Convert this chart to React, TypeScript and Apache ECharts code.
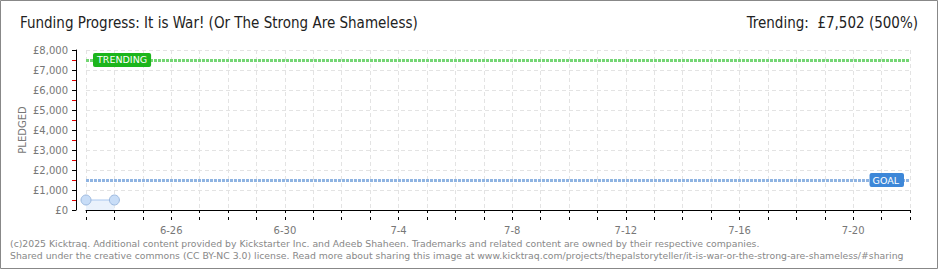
import React, { useEffect, useRef } from "react";
import * as echarts from "echarts";

const dates = [
  "6-23", "6-24", "6-25", "6-26", "6-27", "6-28", "6-29", "6-30",
  "7-1", "7-2", "7-3", "7-4", "7-5", "7-6", "7-7", "7-8",
  "7-9", "7-10", "7-11", "7-12", "7-13", "7-14", "7-15", "7-16",
  "7-17", "7-18", "7-19", "7-20", "7-21", "7-22",
];
const pledged = [500, 500];
const trendingValue = 7502;
const goalValue = 1500;
const titleText = "Funding Progress: It is War! (Or The Strong Are Shameless)";
const trendingText = "Trending:  £7,502 (500%)";
const footer1 =
  "(c)2025 Kicktraq. Additional content provided by Kickstarter Inc. and Adeeb Shaheen. Trademarks and related content are owned by their respective companies.";
const footer2 =
  "Shared under the creative commons (CC BY-NC 3.0) license. Read more about sharing this image at www.kicktraq.com/projects/thepalstoryteller/it-is-war-or-the-strong-are-shameless/#sharing";

export default function App() {
  const ref = useRef<HTMLDivElement>(null);
  useEffect(() => {
    if (!ref.current) return;
    const chart = echarts.init(ref.current, null, { renderer: "svg" });
    const gridDash = { color: "#e3e3e3", type: [4, 3] as any, width: 1 };
    chart.setOption({
      animation: false,
      backgroundColor: "#ffffff",
      grid: { left: 86, right: 30, top: 50, bottom: 60, containLabel: false },
      title: [
        {
          text: titleText,
          left: 20,
          top: 15,
          padding: 0,
          textStyle: { fontFamily: "DejaVu Sans Condensed", fontSize: 15, fontWeight: "normal", color: "#222" },
        },
        {
          text: trendingText,
          right: 22,
          top: 15,
          padding: 0,
          textStyle: { fontFamily: "DejaVu Sans Condensed", fontSize: 15, fontWeight: "normal", color: "#222" },
        },
      ],
      xAxis: [
        {
          type: "category",
          data: dates,
          boundaryGap: false,
          offset: 10,
          axisLine: { show: true, lineStyle: { color: "#000", width: 1 } },
          axisTick: { show: true, interval: 0, length: 3, lineStyle: { color: "#000" } },
          axisLabel: {
            interval: (i: number) => (i - 3) % 4 === 0,
            color: "#777",
            fontFamily: "DejaVu Sans",
            fontSize: 10,
            margin: 5,
          },
          splitLine: { show: true, interval: 0, lineStyle: gridDash },
        },
        {
          type: "category",
          data: dates,
          boundaryGap: false,
          position: "bottom",
          offset: 10,
          axisLine: { show: false },
          axisTick: { show: true, inside: true, interval: 0, length: 3, lineStyle: { color: "#000" } },
          axisLabel: { show: false },
          splitLine: { show: false },
        },
      ],
      yAxis: {
        type: "value",
        min: 0,
        max: 8000,
        interval: 1000,
        offset: 10,
        name: "PLEDGED",
        nameLocation: "middle",
        nameRotate: 90,
        nameGap: 49,
        nameMoveOverlap: false,
        nameTextStyle: { color: "#777", fontFamily: "DejaVu Sans", fontSize: 10 },
        axisLine: { show: true, lineStyle: { color: "#000", width: 1 } },
        axisTick: { show: true, length: 4, lineStyle: { color: "#000" } },
        minorTick: { show: true, splitNumber: 2, length: 4, lineStyle: { color: "#e00000" } },
        axisLabel: {
          color: "#777",
          fontFamily: "DejaVu Sans",
          fontSize: 10,
          margin: 8,
          formatter: (v: number) => "£" + v.toLocaleString("en-US"),
        },
        splitLine: { show: true, lineStyle: gridDash },
      },
      series: [
        {
          type: "line",
          data: pledged,
          symbol: "circle",
          symbolSize: 10,
          itemStyle: { color: "#c8ddf7", borderColor: "#9bb8de", borderWidth: 1 },
          lineStyle: { color: "#a8c6ee", width: 1 },
          areaStyle: { color: "#eaf2fc", opacity: 1 },
          markLine: {
            silent: true,
            symbol: "none",
            label: { show: false },
            data: [
              { yAxis: trendingValue, lineStyle: { color: "#74d674", width: 3, type: [3, 1] } },
              { yAxis: goalValue, lineStyle: { color: "#8fb4e2", width: 3, type: [3, 1] } },
            ],
          },
          markPoint: {
            silent: true,
            symbol: "rect",
            symbolSize: 0,
            data: [
              {
                coord: [dates[0], trendingValue],
                label: {
                  show: true,
                  position: "right",
                  distance: 7,
                  formatter: "TRENDING",
                  color: "#fff",
                  fontFamily: "DejaVu Sans",
                  fontSize: 9.5,
                  backgroundColor: "#1cb51c",
                  borderRadius: 2,
                  padding: [2, 4, 2, 4],
                },
              },
              {
                coord: [dates[dates.length - 1], goalValue],
                label: {
                  show: true,
                  position: "left",
                  distance: 6,
                  formatter: "GOAL",
                  color: "#fff",
                  fontFamily: "DejaVu Sans",
                  fontSize: 9.5,
                  backgroundColor: "#3d87d8",
                  borderRadius: 2,
                  padding: [2, 5, 2, 3],
                },
              },
            ],
          },
        },
      ],
      graphic: [
        {
          type: "rect",
          shape: { x: 0.5, y: 0.5, width: 937, height: 268 },
          style: { fill: "none", stroke: "#888", lineWidth: 1 },
          silent: true,
        },
        {
          type: "text",
          left: 10,
          top: 239,
          style: { text: footer1, fill: "#888", font: "9.3px 'DejaVu Sans'" },
        },
        {
          type: "text",
          left: 10,
          top: 251,
          style: { text: footer2, fill: "#888", font: "9.3px 'DejaVu Sans'" },
        },
      ],
    });
    return () => chart.dispose();
  }, []);
  return (
    <div
      ref={ref}
      style={{ position: "absolute", left: 0, top: 0, width: 940, height: 270 }}
    />
  );
}
